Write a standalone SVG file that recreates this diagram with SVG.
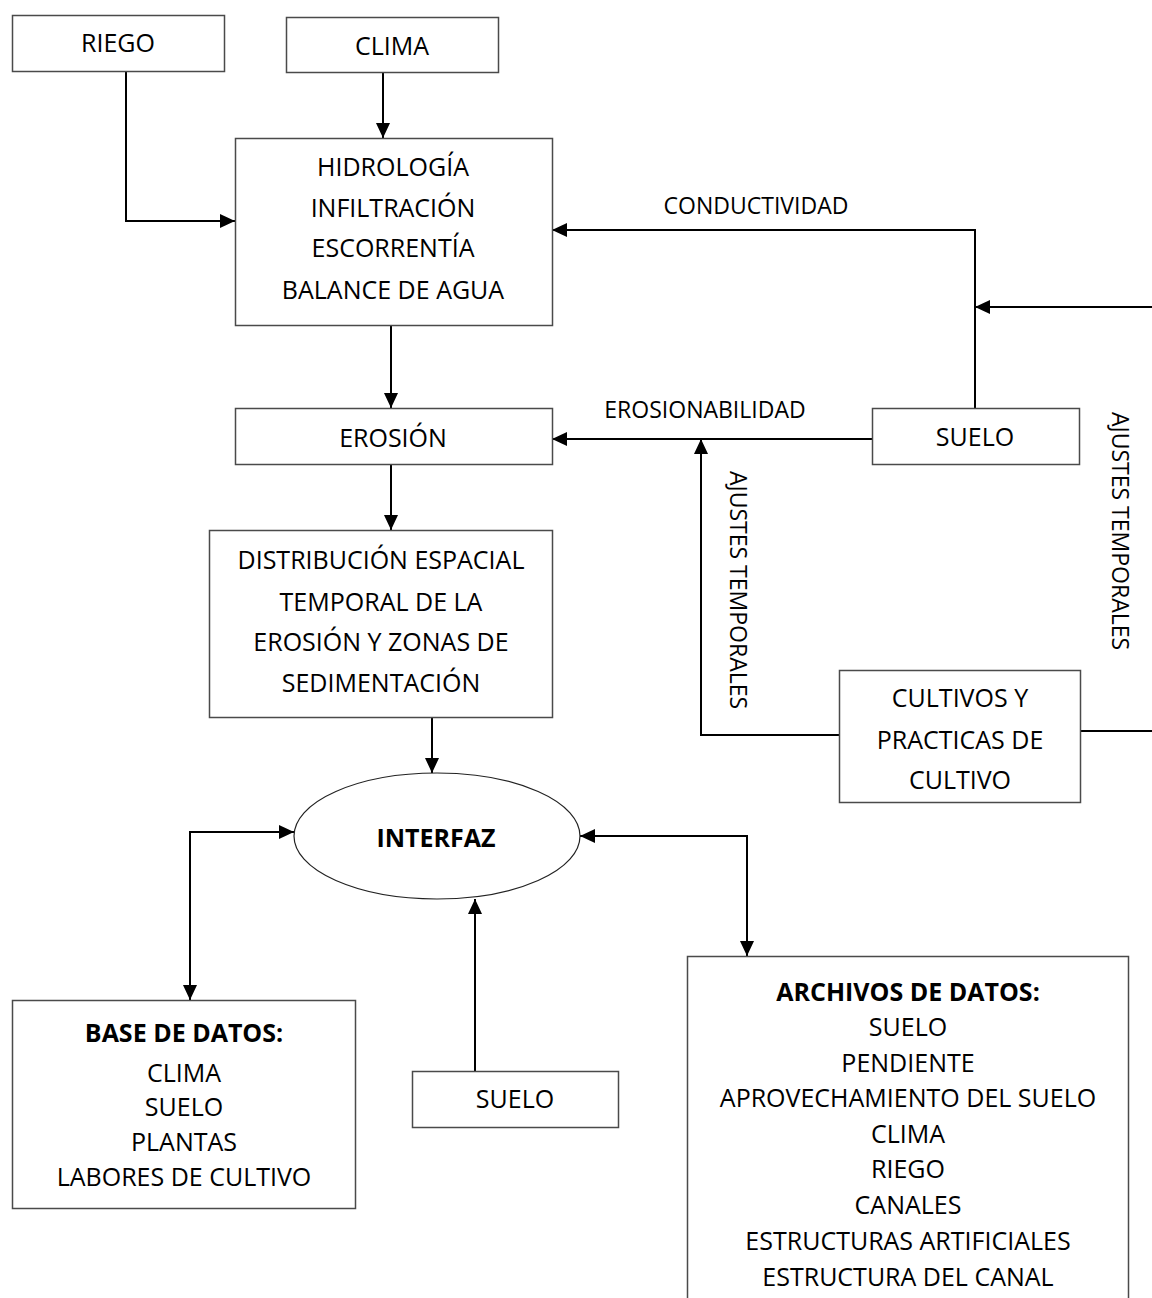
<svg xmlns="http://www.w3.org/2000/svg" width="1152" height="1298" viewBox="0 0 1152 1298">
  <style>
    .box { fill: #ffffff; stroke: #4a4a4a; stroke-width: 1.5; }
    .lbl { font-family: "Open Sans", "Liberation Sans", sans-serif; font-size: 25px; fill: #000; text-anchor: middle; }
    .b { font-weight: bold; }
    .sm { font-size: 23px; }
    .wire { fill: none; stroke: #000; stroke-width: 2; }
  </style>
  <defs>
    <marker id="arrow" markerUnits="userSpaceOnUse" markerWidth="16" markerHeight="14" refX="15" refY="7" orient="auto-start-reverse">
      <path d="M0,0 L15,7 L0,14 Z" fill="#000"/>
    </marker>
  </defs>
  <rect width="1152" height="1298" fill="#ffffff"/>

  <!-- connectors -->
  <g id="connectors">
    <path class="wire" d="M383,72 V138" marker-end="url(#arrow)"/>
    <path class="wire" d="M126,71 V221 H235" marker-end="url(#arrow)"/>
    <path class="wire" d="M975,408 V230 H552" marker-end="url(#arrow)"/>
    <path class="wire" d="M1152,307 H975" marker-end="url(#arrow)"/>
    <path class="wire" d="M872,439 H552" marker-end="url(#arrow)"/>
    <path class="wire" d="M391,325 V408" marker-end="url(#arrow)"/>
    <path class="wire" d="M391,464 V530" marker-end="url(#arrow)"/>
    <path class="wire" d="M432,717 V773" marker-end="url(#arrow)"/>
    <path class="wire" d="M294,832 H190 V1000" marker-start="url(#arrow)" marker-end="url(#arrow)"/>
    <path class="wire" d="M580,836 H747 V956" marker-start="url(#arrow)" marker-end="url(#arrow)"/>
    <path class="wire" d="M475,1071 V899" marker-end="url(#arrow)"/>
    <path class="wire" d="M839,735 H701 V439" marker-end="url(#arrow)"/>
    <path class="wire" d="M1080,731 H1152"/>
    <text class="lbl sm" x="756" y="214">CONDUCTIVIDAD</text>
    <text class="lbl sm" x="705" y="418">EROSIONABILIDAD</text>
    <text class="lbl sm" transform="translate(738,590) rotate(90)" x="0" y="8">AJUSTES TEMPORALES</text>
    <text class="lbl sm" transform="translate(1120,531) rotate(90)" x="0" y="8">AJUSTES TEMPORALES</text>
  </g>

  <g id="riego">
    <rect class="box" x="12.5" y="15.5" width="212" height="56"/>
    <text class="lbl" x="118" y="52">RIEGO</text>
  </g>

  <g id="clima">
    <rect class="box" x="286.5" y="17.5" width="212" height="55"/>
    <text class="lbl" x="392" y="55">CLIMA</text>
  </g>

  <g id="hidrologia">
    <rect class="box" x="235.5" y="138.5" width="317" height="187"/>
    <text class="lbl" x="393" y="176">HIDROLOGÍA</text>
    <text class="lbl" x="393" y="217">INFILTRACIÓN</text>
    <text class="lbl" x="393" y="257">ESCORRENTÍA</text>
    <text class="lbl" x="393" y="299">BALANCE DE AGUA</text>
  </g>

  <g id="erosion">
    <rect class="box" x="235.5" y="408.5" width="317" height="56"/>
    <text class="lbl" x="393" y="447">EROSIÓN</text>
  </g>

  <g id="suelo-top">
    <rect class="box" x="872.5" y="408.5" width="207" height="56"/>
    <text class="lbl" x="975" y="446">SUELO</text>
  </g>

  <g id="distribucion">
    <rect class="box" x="209.5" y="530.5" width="343" height="187"/>
    <text class="lbl" x="381" y="569">DISTRIBUCIÓN ESPACIAL</text>
    <text class="lbl" x="381" y="611">TEMPORAL DE LA</text>
    <text class="lbl" x="381" y="651">EROSIÓN Y ZONAS DE</text>
    <text class="lbl" x="381" y="692">SEDIMENTACIÓN</text>
  </g>

  <g id="cultivos">
    <rect class="box" x="839.5" y="670.5" width="241" height="132"/>
    <text class="lbl" x="960" y="707">CULTIVOS Y</text>
    <text class="lbl" x="960" y="749">PRACTICAS DE</text>
    <text class="lbl" x="960" y="789">CULTIVO</text>
  </g>

  <g id="interfaz">
    <ellipse cx="437" cy="836" rx="143" ry="63" fill="#ffffff" stroke="#222" stroke-width="1.2"/>
    <text class="lbl b" x="436" y="847">INTERFAZ</text>
  </g>

  <g id="base-datos">
    <rect class="box" x="12.5" y="1000.5" width="343" height="208"/>
    <text class="lbl b" x="184" y="1042">BASE DE DATOS:</text>
    <text class="lbl" x="184" y="1082">CLIMA</text>
    <text class="lbl" x="184" y="1116">SUELO</text>
    <text class="lbl" x="184" y="1151">PLANTAS</text>
    <text class="lbl" x="184" y="1186">LABORES DE CULTIVO</text>
  </g>

  <g id="suelo-bottom">
    <rect class="box" x="412.5" y="1071.5" width="206" height="56"/>
    <text class="lbl" x="515" y="1108">SUELO</text>
  </g>

  <g id="archivos">
    <rect class="box" x="687.5" y="956.5" width="441" height="360"/>
    <text class="lbl b" x="908" y="1001">ARCHIVOS DE DATOS:</text>
    <text class="lbl" x="908" y="1036">SUELO</text>
    <text class="lbl" x="908" y="1072">PENDIENTE</text>
    <text class="lbl" x="908" y="1107">APROVECHAMIENTO DEL SUELO</text>
    <text class="lbl" x="908" y="1143">CLIMA</text>
    <text class="lbl" x="908" y="1178">RIEGO</text>
    <text class="lbl" x="908" y="1214">CANALES</text>
    <text class="lbl" x="908" y="1250">ESTRUCTURAS ARTIFICIALES</text>
    <text class="lbl" x="908" y="1286">ESTRUCTURA DEL CANAL</text>
  </g>
</svg>
